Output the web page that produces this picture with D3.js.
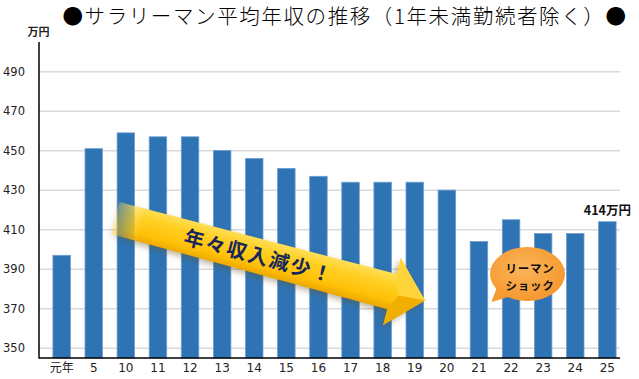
<!DOCTYPE html>
<html><head><meta charset="utf-8">
<script src="https://cdnjs.cloudflare.com/ajax/libs/d3/7.8.5/d3.min.js"></script>
<style>
html,body{margin:0;padding:0;background:#fff;}
svg{display:block;}
</style></head>
<body>
<svg id="chart" width="639" height="379"></svg>
<script>
const categories = ["元年","5","10","11","12","13","14","15","16","17","18","19","20","21","22","23","24","25"];
const values = [397, 451, 459, 457, 457, 450, 446, 441, 437, 434, 434, 434, 430, 404, 415, 408, 408, 414];
const yTicks = [350, 370, 390, 410, 430, 450, 470, 490];
const titleText = "●サラリーマン平均年収の推移（1年未満勤続者除く）●";
const unitText = "万円";
const lastLabel = "414万円";
const arrowText = "年々収入減少！";
const bubbleLines = ["リーマン", "ショック"];

const svg = d3.select("#chart");
const jp = "'Noto Sans CJK JP','Noto Sans',sans-serif";
const num = "'DejaVu Sans',Verdana,sans-serif";

const axisLeftX = 39, axisRightX = 620, baseY = 358, topY = 42;
const x = d3.scaleBand().domain(categories).range([45.6, 623.4]).paddingInner(0.455).paddingOuter(0.2275);
const y = d3.scaleLinear().domain([345, 505]).range([baseY, topY]);

const defs = svg.append("defs");
const sg = defs.append("linearGradient").attr("id","shaftGrad").attr("gradientUnits","userSpaceOnUse")
  .attr("x1",0).attr("y1",-18).attr("x2",0).attr("y2",18);
[["0","#FFE05C"],["0.3","#FFD024"],["0.75","#FFC107"],["1","#EBA600"]].forEach(s=>sg.append("stop").attr("offset",s[0]).attr("stop-color",s[1]));
const fg = defs.append("linearGradient").attr("id","fadeGrad").attr("gradientUnits","userSpaceOnUse")
  .attr("x1",-8).attr("y1",0).attr("x2",28).attr("y2",0);
fg.append("stop").attr("offset","0").attr("stop-color","#fff").attr("stop-opacity",0);
fg.append("stop").attr("offset","0.35").attr("stop-color","#fff").attr("stop-opacity",0.45);
fg.append("stop").attr("offset","1").attr("stop-color","#fff").attr("stop-opacity",1);
defs.append("mask").attr("id","fadeMask").attr("maskUnits","userSpaceOnUse")
  .attr("x",-40).attr("y",-80).attr("width",420).attr("height",160)
  .append("rect").attr("x",-40).attr("y",-80).attr("width",420).attr("height",160).attr("fill","url(#fadeGrad)");
defs.append("filter").attr("id","blur").attr("x","-20%").attr("y","-50%").attr("width","140%").attr("height","200%")
  .append("feGaussianBlur").attr("stdDeviation",3);
const bg = defs.append("radialGradient").attr("id","bubbleGrad").attr("cx","45%").attr("cy","40%").attr("r","65%");
bg.append("stop").attr("offset","0").attr("stop-color","#FBB45A");
bg.append("stop").attr("offset","1").attr("stop-color","#F5962C");

// title
svg.append("text").attr("x",345).attr("y",23.5).attr("text-anchor","middle")
  .attr("font-family",jp).attr("font-size",20.5).attr("font-weight",300).attr("letter-spacing",1.6)
  .attr("fill","#000").text(titleText);
svg.append("text").attr("x",38.5).attr("y",36).attr("text-anchor","middle")
  .attr("font-family",jp).attr("font-size",11).attr("font-weight","bold").attr("fill","#222").text(unitText);

// gridlines
svg.append("g").selectAll("line").data(yTicks).join("line")
  .attr("x1",axisLeftX).attr("x2",axisRightX)
  .attr("y1",d=>y(d)).attr("y2",d=>y(d))
  .attr("stroke","#d9d9d9").attr("stroke-width",1.5);

// y labels
const yAxis = svg.append("g").attr("transform",`translate(${axisLeftX-14},0)`)
  .call(d3.axisLeft(y).tickValues(yTicks).tickSize(0).tickPadding(0));
yAxis.select(".domain").remove();
yAxis.selectAll("text").attr("font-family",num).attr("font-size",11.5).attr("fill","#222");

// bars
svg.append("g").selectAll("rect").data(values).join("rect")
  .attr("x",(d,i)=>x(categories[i]))
  .attr("y",d=>y(d))
  .attr("width",x.bandwidth())
  .attr("height",d=>baseY-y(d))
  .attr("fill","#2E74B5").attr("stroke","#6F9CCF").attr("stroke-width",0.8);

// x labels
const xAxis = svg.append("g").attr("transform",`translate(0,${baseY})`)
  .call(d3.axisBottom(x).tickSize(0).tickPadding(5));
xAxis.select(".domain").remove();
xAxis.selectAll("text").attr("font-family",(d)=>/[^0-9]/.test(d)?jp:num).attr("font-size",12).attr("fill","#222");

// axis lines
svg.append("line").attr("x1",axisLeftX).attr("x2",axisLeftX).attr("y1",topY).attr("y2",baseY+0.5).attr("stroke","#000").attr("stroke-width",1.5);
svg.append("line").attr("x1",axisLeftX).attr("x2",axisRightX).attr("y1",baseY).attr("y2",baseY).attr("stroke","#000").attr("stroke-width",1.5);

// last value label
const lastIdx = values.length-1;
svg.append("text").attr("x",x(categories[lastIdx])+x.bandwidth()/2).attr("y",y(values[lastIdx])-7)
  .attr("text-anchor","middle").attr("font-family",jp).attr("font-weight","bold").attr("font-size",12.5)
  .attr("fill","#111").text(lastLabel);

// arrow
const ag = svg.append("g").attr("transform","translate(115,218) rotate(14.9)");
const inner = ag.append("g").attr("mask","url(#fadeMask)");
const arrowPts = [[0,-16.5],[286.6,-18.2],[286.6,-34.5],[320.8,0],[286.6,34.5],[286.6,18.2],[0,16.5]];
inner.append("polygon").attr("points",arrowPts.map(p=>[p[0]-2,p[1]+3].join(",")).join(" "))
  .attr("fill","#6b5520").attr("opacity",0.45).attr("filter","url(#blur)");
inner.append("polygon").attr("points",arrowPts.map(p=>p.join(",")).join(" ")).attr("fill","url(#shaftGrad)");
inner.append("polygon").attr("points","286.6,-34.5 320.8,0 294,2 286.6,-18.2").attr("fill","#FFD33A");
inner.append("polygon").attr("points","294,2 320.8,0 286.6,34.5 286.6,18.2").attr("fill","#F0AE00");
ag.append("text").attr("x",149).attr("y",0).attr("dy","0.36em").attr("text-anchor","middle")
  .attr("font-family",jp).attr("font-weight","bold").attr("font-size",20).attr("letter-spacing",2)
  .attr("fill","#16265a").text(arrowText);

// bubble
const bx = 527.5, by = 274;
const bub = svg.append("g");
bub.append("path").attr("d",`M${bx-30},${by+12} L${bx-36},${by+28} L${bx-16},${by+22} Z`).attr("fill","#F5962C");
bub.append("ellipse").attr("cx",bx).attr("cy",by).attr("rx",37.5).attr("ry",27).attr("fill","url(#bubbleGrad)");
bub.append("path").attr("d",`M${bx-29},${by+11} L${bx-35.5},${by+27.5} L${bx-17},${by+21} Z`).attr("fill","#F69A32");
bub.selectAll("text.bl").data(bubbleLines).join("text")
  .attr("x",bx+2.5).attr("y",(d,i)=>by-1+i*17).attr("text-anchor","middle")
  .attr("font-family",jp).attr("font-weight","bold").attr("font-size",11.5).attr("letter-spacing",0.8)
  .attr("fill","#111").text(d=>d);
</script>
</body></html>
